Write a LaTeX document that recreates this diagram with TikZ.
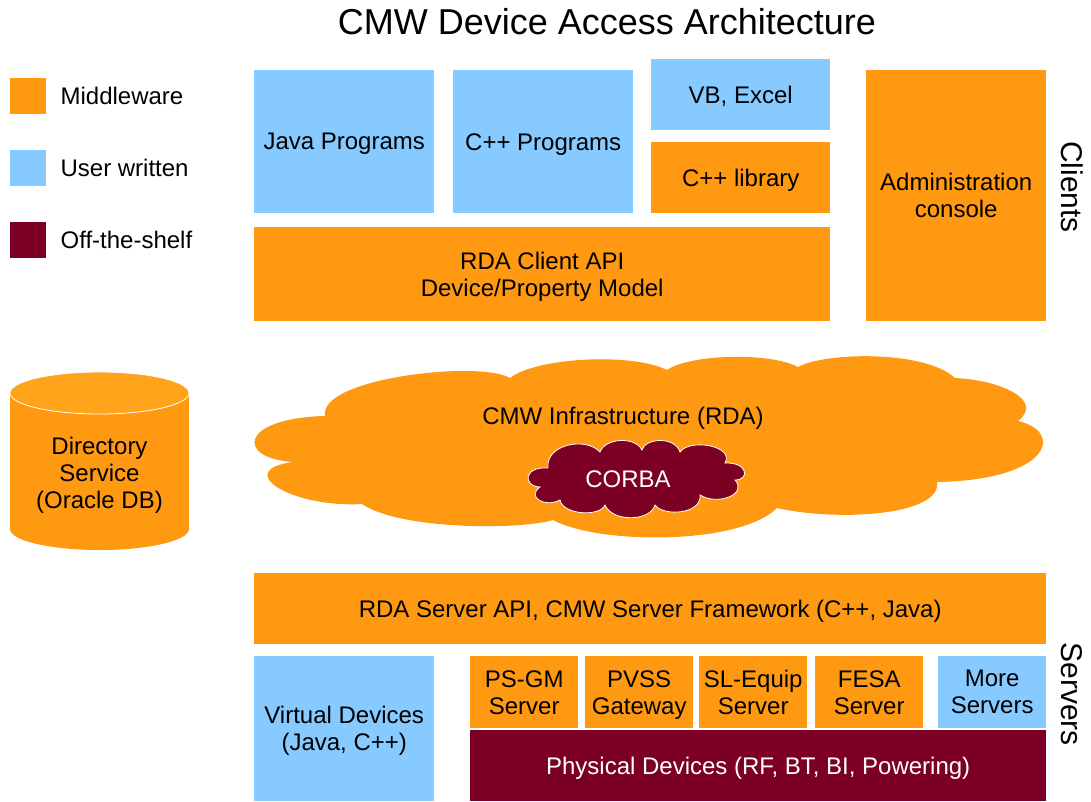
\documentclass[tikz,border=0pt]{standalone}
\usepackage{fontspec}
\setmainfont{Liberation Sans}
\definecolor{mw}{HTML}{FF9912}
\definecolor{mwtop}{HTML}{FFA31A}
\definecolor{uw}{HTML}{87CAFF}
\definecolor{ots}{HTML}{7B0024}
\begin{document}
\begin{tikzpicture}[x=1pt,y=-1pt,
  txt/.style={font=\fontsize{24}{27}\selectfont, align=center, text depth=0pt},
  blk/.style={txt, inner sep=0pt, anchor=north west},
  mwbox/.style={blk, fill=mw},
  uwbox/.style={blk, fill=uw},
  otsbox/.style={blk, fill=ots, text=white},
  legsq/.style={inner sep=0pt, minimum size=36, anchor=north west},
  legtxt/.style={txt, inner sep=0pt, anchor=west},
  side/.style={font=\fontsize{30}{34}\selectfont, rotate=-90}]

% canvas
\fill[white] (0,0) rectangle (1091,801);
\useasboundingbox (0,0) rectangle (1091,801);

% title
\node[font=\fontsize{36}{40}\selectfont] (title) at (607,22) {CMW Device Access Architecture};

% legend
\node[legsq, fill=mw]  (lgmw)  at (10,78)  {};
\node[legsq, fill=uw]  (lguw)  at (10,150) {};
\node[legsq, fill=ots] (lgots) at (10,222) {};
\node[legtxt] (lgmwt)  at ([xshift=14]lgmw.east)  {Middleware};
\node[legtxt] (lguwt)  at ([xshift=14]lguw.east)  {User written};
\node[legtxt] (lgotst) at ([xshift=14]lgots.east) {Off-the-shelf};

% client tier
\node[uwbox, minimum width=180, minimum height=143] (java)   at (254,70)  {Java Programs};
\node[uwbox, minimum width=180, minimum height=143] (cpp)    at (453,70)  {C++ Programs};
\node[uwbox, minimum width=179, minimum height=71]  (vb)     at (651,59)  {VB, Excel};
\node[mwbox, minimum width=179, minimum height=71]  (cpplib) at (651,142) {C++ library};
\node[mwbox, minimum width=576, minimum height=94]  (rdac)   at (254,227) {RDA Client API\\Device/Property Model};
\node[mwbox, minimum width=180, minimum height=251] (admin)  at (866,70)  {Administration\\console};
\node[side] (clients) at (1072,187) {Clients};

% directory service cylinder
\fill[mw] (10,393) rectangle (189,529);
\fill[mw] (99.5,529) ellipse [x radius=89.5, y radius=21];
\filldraw[fill=mwtop, draw=white, line width=0.8pt] (99.5,393) ellipse [x radius=89.5, y radius=21];
\node[txt] (dir) at (99.5,473) {Directory\\Service\\(Oracle DB)};

% middleware cloud
\fill[mw] (325,416)
  .. controls (318,378) and (480,360) .. (510,378)
  .. controls (535,358) and (630,352) .. (667,370)
  .. controls (690,354) and (770,352) .. (798,367)
  .. controls (825,352) and (925,350) .. (955,378)
  .. controls (1000,380) and (1045,400) .. (1018,421)
  .. controls (1065,432) and (1050,480) .. (937,482)
  .. controls (942,515) and (840,522) .. (777,508)
  .. controls (740,545) and (600,545) .. (553,520)
  .. controls (520,530) and (400,530) .. (362,504)
  .. controls (290,508) and (232,470) .. (293,462)
  .. controls (235,458) and (240,418) .. (325,416) -- cycle;
\node[txt] (infra) at (623,416) {CMW Infrastructure (RDA)};

% CORBA cloud inside the middleware cloud
\filldraw[fill=ots, draw=white, line width=0.8pt] (548,468)
  .. controls (545,445) and (585,436) .. (600,452)
  .. controls (605,438) and (635,436) .. (642,450)
  .. controls (645,438) and (675,436) .. (680,452)
  .. controls (690,438) and (735,446) .. (725,463)
  .. controls (748,462) and (750,480) .. (735,480)
  .. controls (748,494) and (718,506) .. (700,495)
  .. controls (702,514) and (664,517) .. (655,505)
  .. controls (650,522) and (612,522) .. (605,505)
  .. controls (600,517) and (563,515) .. (560,500)
  .. controls (545,508) and (526,497) .. (540,487)
  .. controls (522,486) and (524,466) .. (548,468) -- cycle;
\node[txt, text=white] (corba) at (628,479) {CORBA};

% server tier
\node[mwbox, minimum width=792, minimum height=71]  (rdas) at (254,573) {RDA Server API, CMW Server Framework (C++, Java)};
\node[uwbox, minimum width=180, minimum height=145] (virt) at (254,656) {Virtual Devices\\(Java, C++)};
\node[mwbox, minimum width=108, minimum height=72]  (psgm) at (470,656) {PS-GM\\Server};
\node[mwbox, minimum width=108, minimum height=72]  (pvss) at (585,656) {PVSS\\Gateway};
\node[mwbox, minimum width=108, minimum height=72]  (sleq) at (699,656) {SL-Equip\\Server};
\node[mwbox, minimum width=108, minimum height=72]  (fesa) at (815,656) {FESA\\Server};
\node[uwbox, minimum width=108, minimum height=72]  (more) at (938,656) {More\\Servers};
\node[otsbox, minimum width=576, minimum height=71] (phys) at (470,730) {Physical Devices (RF, BT, BI, Powering)};
\node[side] (servers) at (1072,694) {Servers};
\end{tikzpicture}
\end{document}
